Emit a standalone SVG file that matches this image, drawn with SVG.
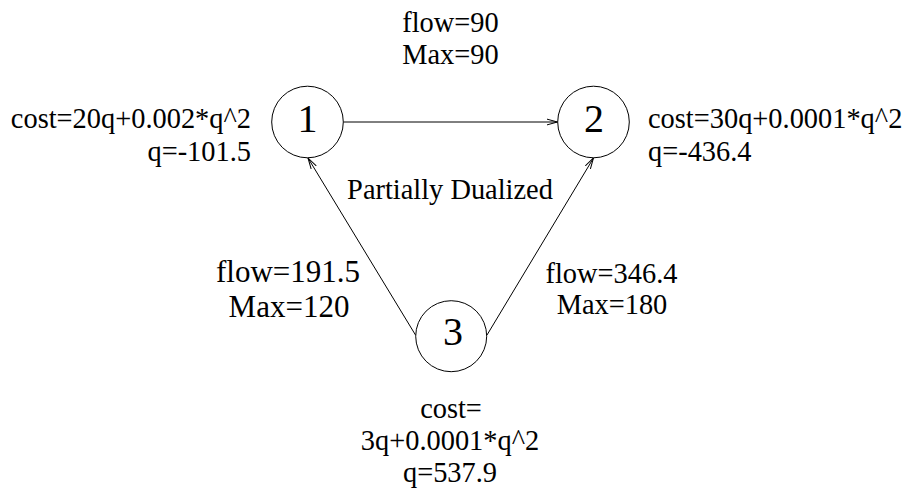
<svg xmlns="http://www.w3.org/2000/svg" width="906" height="489" viewBox="0 0 906 489">
<style>
text{font-family:"Liberation Serif","Times New Roman",serif;fill:#000}
.l{font-size:28.4px}
.m{font-size:31px;text-anchor:middle}
.c{text-anchor:middle}
.n{font-size:40px;text-anchor:middle}
circle{fill:#fff;stroke:#000;stroke-width:1}
.e{stroke:#000;stroke-width:1;fill:none}
</style>
<defs>
<marker id="a" markerWidth="12" markerHeight="8" refX="11" refY="4" orient="auto" markerUnits="userSpaceOnUse">
<path d="M0,1 L11,4 L0,7" fill="none" stroke="#000" stroke-width="1"/>
</marker>
</defs>
<rect width="906" height="489" fill="#fff"/>
<g id="edges">
<line class="e" x1="343.5" y1="122" x2="557.5" y2="122" marker-end="url(#a)"/>
<line class="e" x1="415.5" y1="335" x2="308" y2="158" marker-end="url(#a)"/>
<line class="e" x1="487" y1="335" x2="593.5" y2="158" marker-end="url(#a)"/>
</g>
<g id="node1"><circle cx="307.5" cy="122" r="35.8"/><text class="n" x="307.5" y="132">1</text></g>
<g id="node2"><circle cx="593.5" cy="122" r="35.8"/><text class="n" x="594" y="132">2</text></g>
<g id="node3"><circle cx="451.2" cy="336.2" r="35.5"/><text class="n" x="453" y="345">3</text></g>
<g id="labels">
<text class="l c" x="450.5" y="32">flow=90</text>
<text class="l c" x="450.5" y="64">Max=90</text>
<text class="l" x="251" y="128" text-anchor="end">cost=20q+0.002*q^2</text>
<text class="l" x="251" y="161" text-anchor="end">q=-101.5</text>
<text class="l" x="648" y="128">cost=30q+0.0001*q^2</text>
<text class="l" x="648" y="161">q=-436.4</text>
<text class="l c" x="450" y="199">Partially Dualized</text>
<text class="m" x="288" y="282">flow=191.5</text>
<text class="m" x="289" y="317">Max=120</text>
<text class="l c" x="611.5" y="283">flow=346.4</text>
<text class="l c" x="612" y="314">Max=180</text>
<text class="l c" x="451" y="418">cost=</text>
<text class="l c" x="450" y="450">3q+0.0001*q^2</text>
<text class="l c" x="450" y="482">q=537.9</text>
</g>
</svg>
